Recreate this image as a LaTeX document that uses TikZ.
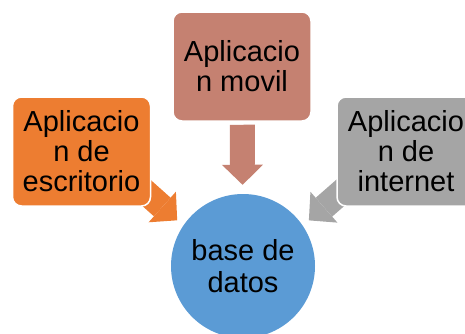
\documentclass[tikz,border=0pt]{standalone}
\usepackage{fontspec}
\setmainfont{Liberation Sans}
\usetikzlibrary{arrows.meta,%
                backgrounds}
\definecolor{naranja}{RGB}{237,125,49}
\definecolor{marron}{RGB}{197,129,113}
\definecolor{gris}{RGB}{165,165,165}
\definecolor{azul}{RGB}{91,155,213}
\tikzstyle{appbox}=[rectangle, rounded corners=9pt, draw=white, line width=1.5pt, minimum width=138pt, minimum height=109pt, inner sep=0pt, align=center, font=\fontsize{29}{30}\selectfont]
\tikzstyle{dbase}=[circle, fill=azul, minimum size=144pt, inner sep=0pt, align=center, font=\fontsize{29}{32}\selectfont]
\tikzstyle{flecha}=[line width=25pt, -{Triangle[length=20pt 0 1, width=41pt 0 1, line width=0pt]}]

\begin{document}
\begin{tikzpicture}[x=1pt,y=-1pt]
  \useasboundingbox (0,0) rectangle (465,333);
  \clip (0,0) rectangle (465,333);
  \node[dbase] (datos) at (243,266) {base de\\datos};
  \node[appbox, fill=naranja] (escritorio) at (81.5,151.5) {Aplicacio\\n de\\escritorio};
  \node[appbox, fill=marron] (movil) at (242,66.5) {Aplicacio\\n movil};
  \node[appbox, fill=gris] (internet) at (406,151.5) {Aplicacio\\n de\\internet};
  \coordinate (escritorio-out) at (132,180);
  \coordinate (internet-out) at (355,180);

  \begin{scope}[on background layer]
    \draw[flecha, marron, shorten <=3pt, shorten >=9pt] (movil) -- (datos);
    \draw[flecha, naranja, shorten >=8pt] (escritorio-out) -- (datos.146);
    \draw[flecha, gris, shorten >=8pt] (internet-out) -- (datos.34);
  \end{scope}
\end{tikzpicture}
\end{document}
